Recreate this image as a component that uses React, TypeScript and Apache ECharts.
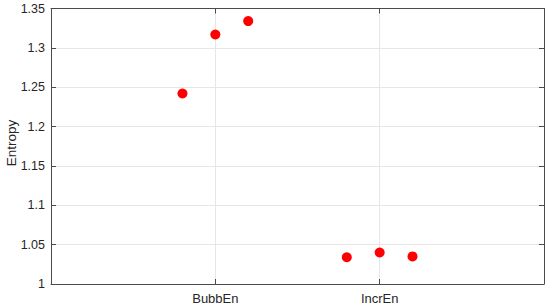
import React, { useEffect, useRef } from "react";
import * as echarts from "echarts";

const categories = ["BubbEn", "IncrEn"];
const categoryPositions = [1, 2];
const jitterOffsets = [-0.2, 0, 0.2];
const bubbEnValues = [1.242, 1.317, 1.334];
const incrEnValues = [1.034, 1.04, 1.035];
const yTicks = [1, 1.05, 1.1, 1.15, 1.2, 1.25, 1.3, 1.35];
const yAxisTitle = "Entropy";

const FONT = "'Liberation Sans', Arial, Helvetica, sans-serif";
const TEXT = "#262626";
const AXIS = "#4a4a4a";
const GRID = "#e6e6e6";

export default function App() {
  const ref = useRef<HTMLDivElement>(null);
  useEffect(() => {
    if (!ref.current) return;
    const chart = echarts.init(ref.current, null, { renderer: "svg" });
    const groups = [bubbEnValues, incrEnValues];
    const data: number[][] = [];
    groups.forEach((vals, gi) => {
      vals.forEach((v, i) => {
        data.push([categoryPositions[gi] + jitterOffsets[i], v]);
      });
    });
    const labelFor = (v: number) => {
      const idx = categoryPositions.indexOf(Math.round(v * 1000) / 1000);
      return idx >= 0 ? categories[idx] : "";
    };
    const tickShow = {
      show: true,
      inside: true,
      length: 5,
      lineStyle: { color: AXIS, width: 1 },
    };
    chart.setOption({
      animation: false,
      backgroundColor: "#ffffff",
      grid: {
        left: 51,
        right: 6,
        top: 8.5,
        bottom: 24,
        containLabel: false,
        outerBoundsMode: "none",
      },
      graphic: [
        {
          type: "text",
          x: 11,
          y: 143,
          rotation: Math.PI / 2,
          style: {
            text: yAxisTitle,
            fill: TEXT,
            font: `13.5px ${FONT}`,
            align: "center",
            verticalAlign: "middle",
          },
        },
      ],
      xAxis: [
        {
          type: "value",
          min: 0,
          max: 3,
          interval: 1,
          position: "bottom",
          axisLine: { show: true, onZero: false, lineStyle: { color: AXIS, width: 1 } },
          axisTick: tickShow,
          axisLabel: {
            formatter: (v: number) => labelFor(v),
            color: TEXT,
            fontFamily: FONT,
            fontSize: 13,
            margin: 8,
          },
          splitLine: { show: true, lineStyle: { color: GRID, width: 1 } },
        },
        {
          type: "value",
          min: 0,
          max: 3,
          interval: 1,
          position: "top",
          axisLine: { show: true, onZero: false, lineStyle: { color: AXIS, width: 1 } },
          axisTick: tickShow,
          axisLabel: { show: false },
          splitLine: { show: false },
        },
      ],
      yAxis: [
        {
          type: "value",
          min: yTicks[0],
          max: yTicks[yTicks.length - 1],
          interval: 0.05,
          position: "left",
          axisLine: { show: true, onZero: false, lineStyle: { color: AXIS, width: 1 } },
          axisTick: tickShow,
          axisLabel: {
            color: TEXT,
            fontFamily: FONT,
            fontSize: 12.5,
            margin: 6,
            formatter: (v: number) => String(Math.round(v * 100) / 100),
          },
          splitLine: { show: true, lineStyle: { color: GRID, width: 1 } },
        },
        {
          type: "value",
          min: yTicks[0],
          max: yTicks[yTicks.length - 1],
          interval: 0.05,
          position: "right",
          axisLine: { show: true, onZero: false, lineStyle: { color: AXIS, width: 1 } },
          axisTick: tickShow,
          axisLabel: { show: false },
          splitLine: { show: false },
        },
      ],
      series: [
        {
          type: "scatter",
          xAxisIndex: 0,
          yAxisIndex: 0,
          data,
          symbol: "circle",
          symbolSize: 10,
          itemStyle: { color: "#ff0000", opacity: 1 },
        },
      ],
    });
    return () => chart.dispose();
  }, []);
  return (
    <div
      ref={ref}
      style={{ position: "absolute", left: 0, top: 0, width: 550, height: 308 }}
    />
  );
}
